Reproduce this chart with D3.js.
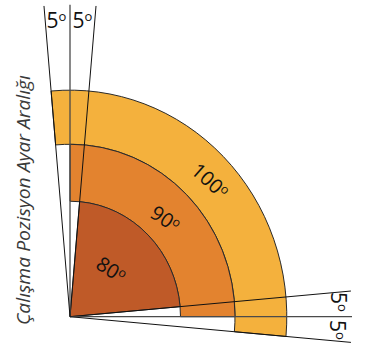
<!DOCTYPE html>
<html>
<head>
<meta charset="utf-8">
<script src="https://cdn.jsdelivr.net/npm/d3@7"></script>
<style>
  html, body { margin: 0; padding: 0; background: #fff; }
  svg { display: block; }
  text { font-family: "Open Sans", "Noto Sans", sans-serif; }
</style>
</head>
<body>
<svg id="chart" width="371" height="344"></svg>
<script>
// ---- data ----
const bandLabels = ["80", "90", "100"];      // ring labels (degrees, inner -> outer)
const bandSpans = [80, 90, 100];             // angular span of each ring, degrees
const bandColors = ["#BF5A28", "#E3832F", "#F4B13D"];
const diffLabels = ["5", "5"];               // differences between consecutive spans (degrees)
const degreeMark = "o";                      // superscript degree mark as drawn
const axisTitle = "Çalışma Pozisyon Ayar Aralığı";

// ---- layout ----
const svg = d3.select("#chart");
const cx = 70, cy = 316.7, yStretch = 1.045;
const midAngle = 45;                          // rings are centred on 45°
const rScale = d3.scaleLinear().domain([0, 1, 2, 3]).range([0, 110.5, 165, 216.8]);
const deg = d3.scaleLinear().domain([0, 360]).range([0, 2 * Math.PI]);

const g = svg.append("g").attr("transform", `translate(${cx},${cy}) scale(1,${yStretch})`);

const arc = d3.arc();
const order = d3.range(bandSpans.length).reverse();
g.selectAll("path.band").data(order).join("path")
  .attr("class", "band")
  .attr("d", i => arc({
    innerRadius: rScale(i),
    outerRadius: rScale(i + 1),
    startAngle: deg(midAngle - bandSpans[i] / 2),
    endAngle: deg(midAngle + bandSpans[i] / 2)
  }))
  .attr("fill", i => bandColors[i])
  .attr("stroke", "#2a2a2a")
  .attr("stroke-width", 1)
  .attr("vector-effect", "non-scaling-stroke");

// reference lines at the edges of every ring (d3 angle: clockwise from 12 o'clock)
const edgeLines = [];
bandSpans.forEach(s => {
  edgeLines.push({ a: midAngle - s / 2, len: 298.5 });   // upper edge
  edgeLines.push({ a: midAngle + s / 2, len: 282 });     // lower edge
});
g.selectAll("line.edge").data(edgeLines).join("line")
  .attr("class", "edge")
  .attr("x1", 0).attr("y1", 0)
  .attr("x2", d => d.len * Math.sin(deg(d.a)))
  .attr("y2", d => -d.len * Math.cos(deg(d.a)))
  .attr("stroke", d => (d.a === 0 || d.a === 90) ? "#4a4a4a" : "#111")
  .attr("stroke-width", d => (d.a === 0 || d.a === 90) ? 1.3 : 1)
  .attr("vector-effect", "non-scaling-stroke");

function degText(sel, size) {
  sel.append("tspan").text(d => d);
  sel.append("tspan")
    .attr("font-size", size * 0.62)
    .attr("dy", -size * 0.33)
    .text(degreeMark);
}

// ring labels
const labelR = [0.55, 0.42, 0.5];
const labelA = [-2.5, 0.5, 2.1];
const labelRot = [33, 34, 42];
svg.selectAll("text.band").data(bandLabels).join("text")
  .attr("class", "band")
  .attr("transform", (d, i) => {
    const r0 = rScale(i), r1 = rScale(i + 1);
    const r = r0 + (r1 - r0) * labelR[i];
    const a = deg(midAngle + labelA[i]);
    const x = cx + r * Math.sin(a);
    const y = cy - r * Math.cos(a) * yStretch;
    return `translate(${x},${y}) rotate(${labelRot[i]}) translate(0,7)`;
  })
  .attr("text-anchor", "middle")
  .attr("font-size", 20)
  .attr("fill", "#111")
  .call(degText, 20);

// difference labels at the top
const topPos = [[46.5, 28], [72.5, 28]];
svg.selectAll("text.topdiff").data(diffLabels).join("text")
  .attr("class", "topdiff")
  .attr("x", (d, i) => topPos[i][0])
  .attr("y", (d, i) => topPos[i][1])
  .attr("font-size", 21)
  .attr("fill", "#111")
  .call(degText, 21);

// difference labels on the right (rotated)
const rightPos = [[331, 292], [329.5, 320]];
svg.selectAll("text.rightdiff").data(diffLabels).join("text")
  .attr("class", "rightdiff")
  .attr("transform", (d, i) => `translate(${rightPos[i][0]},${rightPos[i][1]}) rotate(90)`)
  .attr("font-size", 21)
  .attr("fill", "#111")
  .call(degText, 21);

// axis title
svg.append("text")
  .attr("transform", "translate(29.5,325) rotate(-90)")
  .attr("font-size", 19)
  .attr("font-style", "italic")
  .attr("fill", "#3a3a3a")
  .attr("textLength", 250)
  .attr("lengthAdjust", "spacingAndGlyphs")
  .text(axisTitle);
</script>
</body>
</html>
